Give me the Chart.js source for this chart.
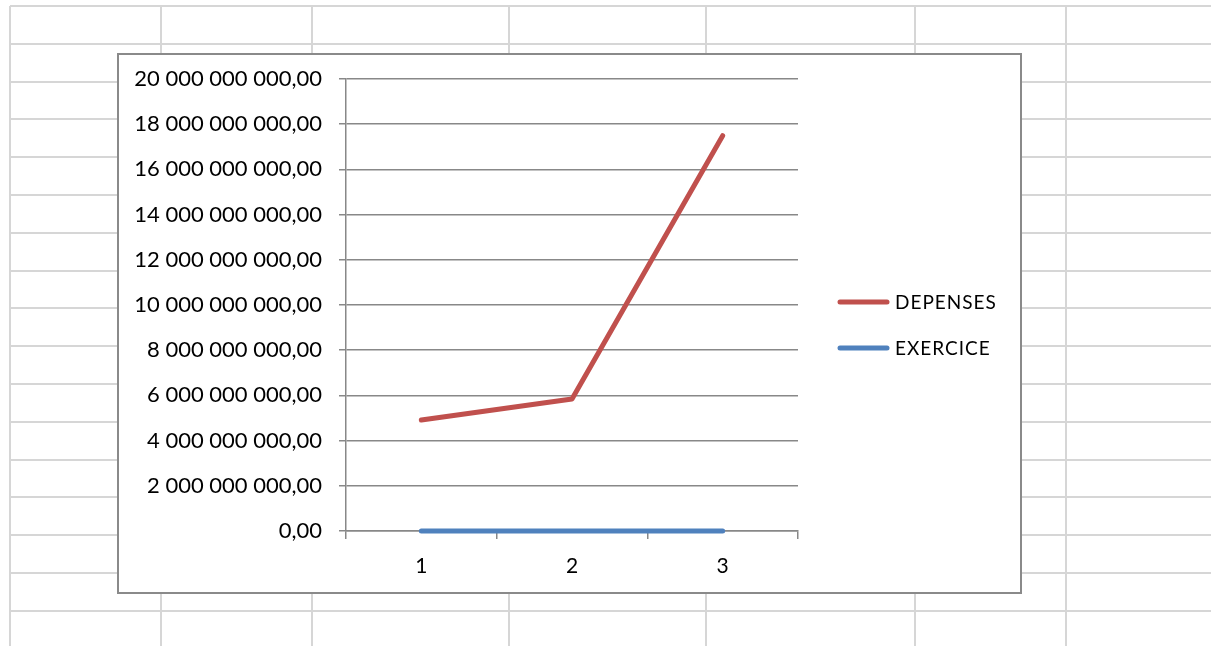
<!DOCTYPE html>
<html>
<head>
<meta charset="utf-8">
<script src="https://cdn.jsdelivr.net/npm/chart.js@4"></script>
<style>
  html, body { margin: 0; padding: 0; background: #ffffff; }
  body { width: 1211px; height: 646px; position: relative; overflow: hidden; font-family: Lato, sans-serif; }
  .hline, .vline { position: absolute; background: #d6d6d6; }
  .hline { left: 10px; right: 0; height: 2px; }
  .vline { top: 6px; bottom: 0; width: 2px; }
  #frame {
    position: absolute; left: 117px; top: 53px; width: 905px; height: 541px;
    box-sizing: border-box; border: 2px solid #8a8a8a; background: #ffffff;
  }
  #frame canvas { display: block; }
</style>
</head>
<body>
<div id="sheet"></div>
<div id="frame"><canvas id="chart" width="901" height="537"></canvas></div>
<script>
// Worksheet cell borders behind the chart object
const sheetRows = [6, 43.8, 81.6, 119.4, 157.2, 195, 232.8, 270.6, 308.4, 346.2, 384, 421.8, 459.6, 497.4, 535.2, 573, 610.8];
const sheetCols = [10, 161, 312, 509, 706, 915, 1066];
const sheet = document.getElementById('sheet');
sheetRows.forEach(y => {
  const d = document.createElement('div');
  d.className = 'hline'; d.style.top = (y - 1) + 'px';
  sheet.appendChild(d);
});
sheetCols.forEach(x => {
  const d = document.createElement('div');
  d.className = 'vline'; d.style.left = (x - 1) + 'px';
  sheet.appendChild(d);
});

// Chart data
const categories = ['1', '2', '3'];
const depenses = [4910000000, 5840000000, 17490000000];
const exercice = [0, 0, 0];
const seriesNames = ['DEPENSES', 'EXERCICE'];
const seriesColors = ['#C0504D', '#4F81BD'];

const FONT = 'Lato';

function frNumber(v) {
  const parts = Math.abs(v).toFixed(2).split('.');
  const intPart = parts[0].replace(/\B(?=(\d{3})+(?!\d))/g, ' ');
  return (v < 0 ? '-' : '') + intPart + ',' + parts[1];
}

// Legend drawn to the right of the plot area
const sideLegend = {
  id: 'sideLegend',
  afterDraw(chart) {
    const ctx = chart.ctx;
    const x0 = chart.chartArea.right + 40;
    const rowY = [247, 293];
    ctx.save();
    chart.data.datasets.forEach((ds, i) => {
      const y = rowY[i];
      ctx.strokeStyle = ds.borderColor;
      ctx.lineWidth = 5;
      ctx.lineCap = 'round';
      ctx.beginPath();
      ctx.moveTo(x0 + 2, y);
      ctx.lineTo(x0 + 49, y);
      ctx.stroke();
      ctx.fillStyle = '#000000';
      ctx.font = '19px ' + FONT;
      ctx.textBaseline = 'middle';
      ctx.textAlign = 'left';
      if ('letterSpacing' in ctx) ctx.letterSpacing = '1px';
      ctx.fillText(ds.label, x0 + 57, y + 1);
    });
    ctx.restore();
  }
};

new Chart(document.getElementById('chart'), {
  type: 'line',
  data: {
    labels: categories,
    datasets: [
      { label: seriesNames[0], data: depenses, borderColor: seriesColors[0], backgroundColor: seriesColors[0],
        borderWidth: 5, pointRadius: 0, borderCapStyle: 'round', borderJoinStyle: 'round', tension: 0, clip: false },
      { label: seriesNames[1], data: exercice, borderColor: seriesColors[1], backgroundColor: seriesColors[1],
        borderWidth: 5, pointRadius: 0, borderCapStyle: 'round', borderJoinStyle: 'round', tension: 0, clip: false }
    ]
  },
  options: {
    responsive: false,
    animation: false,
    events: [],
    layout: { padding: { top: 24, right: 222, bottom: 0, left: 0 } },
    plugins: { legend: { display: false }, tooltip: { enabled: false } },
    scales: {
      x: {
        offset: true,
        grid: { offset: true, drawOnChartArea: false, drawTicks: true, tickLength: 8, color: '#888888', lineWidth: 1.5 },
        border: { display: true, color: '#888888', width: 1.5 },
        ticks: { color: '#000000', font: { family: FONT, size: 21 }, padding: 15 },
        afterFit(scale) { scale.height = 61; }
      },
      y: {
        min: 0, max: 20000000000,
        grid: { color: '#888888', lineWidth: 1.5, tickLength: 7, drawTicks: true },
        border: { display: true, color: '#888888', width: 1.5 },
        ticks: { stepSize: 2000000000, color: '#000000', font: { family: FONT, size: 22 }, padding: 17,
                 callback: (v) => frNumber(v) },
        afterFit(scale) {
          scale.width = 227;
          scale.paddingTop = 0;
          scale.paddingBottom = 0;
        }
      }
    }
  },
  plugins: [sideLegend]
});
</script>
</body>
</html>
